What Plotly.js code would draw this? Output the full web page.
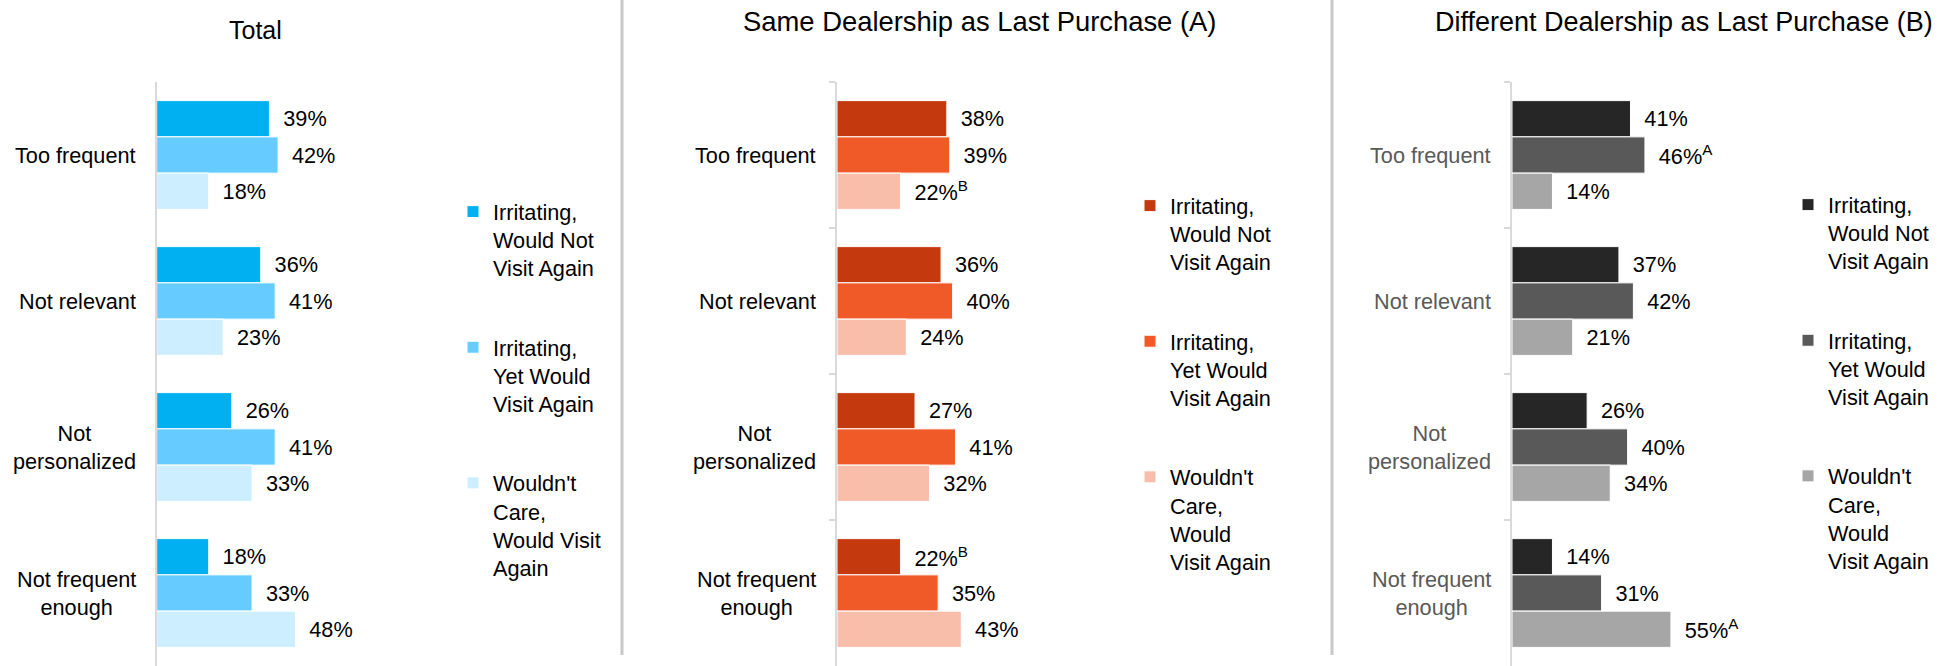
<!DOCTYPE html>
<html><head><meta charset="utf-8">
<script src="https://cdn.plot.ly/plotly-3.0.1.min.js"></script>
<style>html,body{margin:0;padding:0;background:#fff;} #chart{width:1940px;height:666px;}</style>
</head><body><div id="chart"></div>
<script>
// ---------- data ----------
const categories = ['Too frequent', 'Not relevant', 'Not personalized', 'Not frequent enough'];
const categoryLabels = ['Too frequent', 'Not relevant', 'Not<br>personalized', 'Not frequent<br>enough'];
const panelTitles = ['Total', 'Same Dealership as Last Purchase (A)', 'Different Dealership as Last Purchase (B)'];
const seriesNamesTotal = ['Irritating,<br>Would Not<br>Visit Again', 'Irritating,<br>Yet Would<br>Visit Again', "Wouldn't<br>Care,<br>Would Visit<br>Again"];
const seriesNamesAB = ['Irritating,<br>Would Not<br>Visit Again', 'Irritating,<br>Yet Would<br>Visit Again', "Wouldn't<br>Care,<br>Would<br>Visit Again"];

const totalWouldNot = [39, 36, 26, 18];
const totalYetWould = [42, 41, 41, 33];
const totalWouldntCare = [18, 23, 33, 48];
const totalSig = ['', '', '', ''];

const sameWouldNot = [38, 36, 27, 22];
const sameYetWould = [39, 40, 41, 35];
const sameWouldntCare = [22, 24, 32, 43];
const sameWouldNotSig = ['', '', '', 'B'];
const sameYetWouldSig = ['', '', '', ''];
const sameWouldntCareSig = ['B', '', '', ''];

const diffWouldNot = [41, 37, 26, 14];
const diffYetWould = [46, 42, 40, 31];
const diffWouldntCare = [14, 21, 34, 55];
const diffWouldNotSig = ['', '', '', ''];
const diffYetWouldSig = ['A', '', '', ''];
const diffWouldntCareSig = ['', '', '', 'A'];

const colorsTotal = ['#00B0F0', '#66CCFF', '#CCEEFF'];
const colorsSame = ['#C4390E', '#F05A28', '#F8BEAA'];
const colorsDiff = ['#262626', '#595959', '#A6A6A6'];

// ---------- layout helpers ----------
const W = 1940, H = 666, T = 82;
const PH = H - T;
const px = v => v / W;
const py = v => (H - v) / PH;
const FONT = 'Liberation Sans, Arial, sans-serif';
const XMAX = 70, SCALE = 2.89;           // px per percent
const axisX = [156.7, 837, 1512];

const panels = [
  {vals: [totalWouldNot, totalYetWould, totalWouldntCare], sig: [totalSig, totalSig, totalSig], names: seriesNamesTotal, colors: colorsTotal, labelColor: '#000000', ticks: ''},
  {vals: [sameWouldNot, sameYetWould, sameWouldntCare], sig: [sameWouldNotSig, sameYetWouldSig, sameWouldntCareSig], names: seriesNamesAB, colors: colorsSame, labelColor: '#000000', ticks: 'outside'},
  {vals: [diffWouldNot, diffYetWould, diffWouldntCare], sig: [diffWouldNotSig, diffYetWouldSig, diffWouldntCareSig], names: seriesNamesAB, colors: colorsDiff, labelColor: '#595959', ticks: 'outside'}
];

const traces = [];
const annotations = [];
const layout = {
  width: W, height: H,
  margin: {l: 0, r: 0, t: T, b: 0, pad: 0},
  paper_bgcolor: '#ffffff', plot_bgcolor: 'rgba(0,0,0,0)',
  barmode: 'group', bargap: 0.255, bargroupgap: 0,
  font: {family: FONT, size: 21.7, color: '#000000'},
  showlegend: true,
  shapes: [],
  annotations: annotations
};

const legendX = [453, 1130, 1788];
const legendTop = [191, 185, 184];
const titleX = [255.5, 979, 1684];
const titleY = [30, 21.7, 21.7];
const titleSize = [25, 27.4, 27];

panels.forEach((p, i) => {
  const sfx = i === 0 ? '' : String(i + 1);
  const xa = 'x' + sfx, ya = 'y' + sfx;
  const legName = 'legend' + sfx;
  for (let s = 0; s < 3; s++) {
    traces.push({
      type: 'bar', orientation: 'h',
      x: p.vals[s], y: categories,
      xaxis: xa, yaxis: ya,
      name: p.names[s],
      legend: legName, legendgroup: 'p' + i + 's' + s,
      marker: {color: p.colors[s], line: {color: '#ffffff', width: 1}},
      text: p.vals[s].map((v, k) => '\u2002' + v + '%' + (p.sig[s][k] ? '<sup>' + p.sig[s][k] + '</sup>' : '')),
      textposition: 'outside', cliponaxis: false, constraintext: 'none',
      textfont: {family: FONT, size: 21.7, color: '#000000'},
      hoverinfo: 'skip'
    });
  }
  layout['xaxis' + sfx] = {
    domain: [px(axisX[i]), px(axisX[i] + XMAX * SCALE)], range: [0, XMAX], anchor: ya,
    showgrid: false, zeroline: false, showline: false, showticklabels: false, ticks: '', fixedrange: true
  };
  layout['yaxis' + sfx] = {
    domain: [0, 1], anchor: xa, type: 'category', autorange: 'reversed',
    showline: true, linecolor: '#d9d9d9', linewidth: 2,
    ticks: p.ticks, tickson: 'boundaries', ticklen: 6, tickcolor: '#d9d9d9', tickwidth: 2,
    showticklabels: false, showgrid: false, zeroline: false, fixedrange: true
  };
  layout[legName] = {
    x: px(legendX[i]), xanchor: 'left', y: py(legendTop[i]), yanchor: 'top',
    bgcolor: 'rgba(0,0,0,0)', borderwidth: 0,
    font: {family: FONT, size: 21.7, color: '#000000'},
    traceorder: 'grouped', tracegroupgap: 48, valign: 'top', itemclick: false, itemdoubleclick: false
  };
  categories.forEach((c, k) => {
    annotations.push({
      xref: xa, yref: ya, x: 0, y: c, xanchor: 'right', yanchor: 'middle',
      xshift: -19, text: categoryLabels[k], align: 'center', showarrow: false,
      font: {family: FONT, size: 21.7, color: p.labelColor}
    });
  });
  annotations.push({
    xref: 'paper', yref: 'paper', x: px(titleX[i]), y: py(titleY[i]),
    xanchor: 'center', yanchor: 'middle', text: panelTitles[i], showarrow: false,
    font: {family: FONT, size: titleSize[i], color: '#000000'}
  });
});

[622, 1332].forEach(xv => {
  layout.shapes.push({type: 'line', xref: 'paper', yref: 'paper', x0: px(xv), x1: px(xv), y0: py(0), y1: py(655),
    line: {color: '#c8c8c8', width: 3}});
});

Plotly.newPlot('chart', traces, layout, {staticPlot: true, displayModeBar: false});
</script>
</body></html>
